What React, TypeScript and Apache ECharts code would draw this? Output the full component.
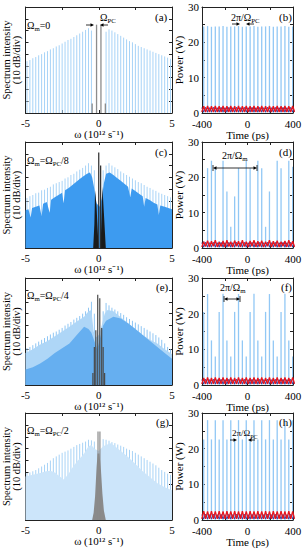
import React, { useEffect, useRef } from "react";
import * as echarts from "echarts";

// ---------- DATA ----------
// spectral comb lines (10^12 s^-1)
const OMEGA_LINES = [-4.9, -4.7, -4.5, -4.3, -4.1, -3.9, -3.7, -3.5, -3.3, -3.1, -2.9, -2.7, -2.5, -2.3, -2.1, -1.9, -1.7, -1.5, -1.3, -1.1, -0.9, -0.7, -0.5, -0.3, -0.1,
  0.1, 0.3, 0.5, 0.7, 0.9, 1.1, 1.3, 1.5, 1.7, 1.9, 2.1, 2.3, 2.5, 2.7, 2.9, 3.1, 3.3, 3.5, 3.7, 3.9, 4.1, 4.3, 4.5, 4.7, 4.9];

// heights in dB above the bottom of the frame (10 dB per division, 9 divisions)
const A_LINES = [44, 45, 46.5, 47.5, 49, 50, 51.5, 52.5, 54, 55, 56.5, 57.5, 59, 60.5, 62, 63, 64.5, 66, 67.5, 69, 70.5, 72, 70, 0, 0,
  0, 0, 69, 71, 70, 68.5, 67, 65.5, 64, 62.5, 61, 60, 58.5, 57, 56, 55, 54, 53, 52, 51, 50, 49, 48, 47, 46];
const A_CENTER_W = [-0.45, -0.15, 0.15, 0.45];
const A_CENTER = [8, 75, 75, 8];

const C_LINES = [42.5, 44, 45, 46.5, 47, 49, 49.5, 51, 52, 54, 55, 56, 57, 59, 60, 62, 63, 65, 66.5, 68, 70, 72, 70, 66, 0,
  0, 66, 70, 72, 70, 68.5, 67, 65, 63.5, 62, 60.5, 59, 57.5, 56, 55, 53.5, 52, 51, 49.5, 48.5, 47, 46, 45, 44, 43];
const C_FILL_W = [-5, -4.8, -4.65, -4.55, -4.3, -4.05, -3.9, -3.8, -3.55, -3.35, -3.25, -3.0, -2.75, -2.5, -2.4, -2.3, -2.05, -1.8, -1.55, -1.3, -1.05, -0.8, -0.6, -0.45, -0.3, -0.15,
  0.05, 0.2, 0.35, 0.5, 0.75, 1.0, 1.25, 1.5, 1.75, 2.0, 2.15, 2.25, 2.5, 2.75, 3.0, 3.1, 3.2, 3.5, 3.75, 4.0, 4.1, 4.2, 4.5, 4.75, 5.0];
const C_FILL = [32, 33, 26, 34, 35, 36, 27, 37.5, 39, 30, 41, 43, 45, 47, 38, 49, 51, 53.5, 56, 58.5, 61, 63, 64, 60, 50, 38,
  35, 42, 55, 63, 64, 62, 59.5, 57, 54.5, 52, 43, 50.5, 48.5, 46, 44, 35, 42.5, 40.5, 38.5, 37, 28, 36, 35, 34, 33];
const C_CENTER_W = [0.0, 0.13];
const C_CENTER = [81, 70];
const C_TRI_L_W = [-0.38, -0.3, -0.25, -0.15, -0.05, 0.0];
const C_TRI_L = [0, 20, 49, 35, 10, 0];
const C_TRI_R_W = [0.12, 0.2, 0.25, 0.35, 0.48];
const C_TRI_R = [0, 30, 52, 30, 0];

const E_LINES = [31, 32, 33.5, 35, 36.5, 38, 39.5, 41, 42.5, 44, 45, 46.5, 48, 50, 51.5, 53, 55, 56.5, 58, 60, 62, 65, 70, 60, 0,
  0, 62, 69, 67, 65, 63.5, 62, 60.5, 59, 57, 55.5, 54, 52.5, 51, 49.5, 48, 46.5, 45, 43.5, 42, 40, 38, 35, 32, 30];
const E_LIGHT_W = [-5, -4.5, -4, -3.5, -3, -2.5, -2, -1.5, -1, -0.7, -0.5, -0.35, -0.2, 0, 0.2, 0.4, 0.6, 1, 1.5, 2, 2.5, 3, 3.5, 4, 4.5, 5];
const E_LIGHT = [27, 30, 34, 37, 41, 45, 49, 53.5, 57.5, 62, 63, 45, 40, 42, 50, 60, 63, 62, 57, 52, 47, 42, 38, 35, 30, 26];
const E_MID_W = [-5, -4.5, -4, -3.5, -3, -2.5, -2, -1.5, -1, -0.7, -0.5, -0.3, -0.1, 0.1, 0.3, 0.5, 1, 1.5, 2, 2.5, 3, 3.5, 4, 4.5, 5];
const E_MID = [13, 15, 18, 22, 27, 31, 35, 42, 49, 47, 44, 37, 30, 40, 50, 54, 57.5, 56, 52, 47, 42, 37, 32, 27, 22];
const E_CENTER_W = [-0.4, -0.3, -0.2, -0.07, 0.07, 0.2, 0.3, 0.4];
const E_CENTER = [10, 32, 46, 76, 73, 48, 32, 10];

const G_LINES = [39.5, 40, 41, 42, 43.5, 45, 46.5, 48, 50, 52, 53.5, 55, 56.5, 57.5, 58.5, 60, 61.5, 63, 64, 65, 66, 67.5, 67, 66, 0,
  0, 68, 67.5, 66.7, 65.5, 64.7, 63.5, 62.5, 61.5, 60, 59, 58, 56.5, 55, 53.5, 52, 50.5, 49, 47.5, 46, 44, 42, 40.5, 39, 38];
const G_FILL_W = [-5, -4.5, -4, -3.6, -3.3, -3, -2.7, -2.4, -2.1, -1.8, -1.5, -1.2, -1, -0.7, -0.5, -0.3, 0, 0.3, 0.5, 0.8, 1, 1.5, 2, 2.5, 3, 3.5, 4, 4.5, 5];
const G_FILL = [36.5, 38, 39.5, 41, 41.5, 40, 37, 34, 38, 44, 49, 53, 56, 62, 63, 60, 58, 62, 63, 64.5, 63, 58, 53, 47, 41, 36, 31, 27.5, 25];
const G_TRI_W = [-0.45, -0.35, -0.25, -0.15, -0.08, 0.05, 0.15, 0.25, 0.35, 0.48];
const G_TRI = [0, 6, 20, 44, 56, 56, 42, 22, 8, 0];
const G_CENTER_W = [-0.05, 0.08];
const G_CENTER = [74.5, 74.5];

// time domain (ps, W)
const PULSE_T = [-385, -351, -317, -283, -249, -215, -181, -147, -113, -79, -45, -11, 23, 57, 91, 125, 159, 193, 227, 261, 295, 329, 363, 397];
const B_PULSES = [24.5, 24.6, 24.4, 24.5, 24.5, 24.6, 24.4, 24.5, 24.5, 24.6, 24.4, 24.5, 24.5, 24.6, 24.4, 24.5, 24.5, 24.6, 24.4, 24.5, 24.5, 24.6, 24.4, 24.5];
const D_PULSES = [2, 22.6, 24.7, 22.6, 2, 24.7, 16, 6, 14.6, 22.6, 2, 24.7, 22.6, 2, 24.7, 22.6, 6, 16, 2, 24.7, 22.6, 2, 24.7, 23];
const F_PULSES = [20.5, 25.5, 12.5, 8, 20.5, 25.6, 12.5, 8, 20.5, 25.5, 12.5, 8, 20.5, 25.6, 12.5, 8, 20.5, 25.5, 12.5, 8, 20.5, 25.6, 12.5, 8];
const H_PULSES = [22.6, 28, 22.6, 28, 22.6, 28, 22.6, 28, 22.6, 28, 22.6, 28, 22.6, 28, 22.6, 28, 22.6, 28, 22.6, 28, 22.6, 28, 22.6, 28];

const TRACE_T = [-402, -385, -368, -351, -334, -317, -300, -283, -266, -249, -232, -215, -198, -181, -164, -147, -130, -113, -96, -79, -62, -45, -28, -11,
  6, 23, 40, 57, 74, 91, 108, 125, 142, 159, 176, 193, 210, 227, 244, 261, 278, 295, 312, 329, 346, 363, 380, 397, 414];
const B_RED = [0.3, 1.9, 0.3, 2.0, 0.3, 1.9, 0.3, 2.0, 0.3, 1.9, 0.3, 2.0, 0.3, 1.9, 0.3, 2.0, 0.3, 1.9, 0.3, 2.0, 0.3, 1.9, 0.3, 2.0,
  0.3, 1.9, 0.3, 2.0, 0.3, 1.9, 0.3, 2.0, 0.3, 1.9, 0.3, 2.0, 0.3, 1.9, 0.3, 2.0, 0.3, 1.9, 0.3, 2.0, 0.3, 1.9, 0.3, 2.0, 0.3];
const D_RED = [0.3, 1.8, 0.4, 2.1, 0.3, 1.9, 0.5, 2.2, 0.3, 1.7, 0.4, 2.0, 0.3, 2.2, 0.4, 1.8, 0.3, 2.1, 0.5, 1.9, 0.3, 2.2, 0.4, 1.8,
  0.3, 2.0, 0.5, 2.2, 0.3, 1.9, 0.4, 2.1, 0.3, 1.8, 0.5, 2.2, 0.3, 1.9, 0.4, 2.1, 0.3, 1.8, 0.5, 2.0, 0.3, 2.2, 0.4, 1.9, 0.3];
const F_RED = [0.3, 2.0, 0.3, 2.1, 0.3, 2.0, 0.3, 2.1, 0.3, 2.0, 0.3, 2.1, 0.3, 2.0, 0.3, 2.1, 0.3, 2.0, 0.3, 2.1, 0.3, 2.0, 0.3, 2.1,
  0.3, 2.0, 0.3, 2.1, 0.3, 2.0, 0.3, 2.1, 0.3, 2.0, 0.3, 2.1, 0.3, 2.0, 0.3, 2.1, 0.3, 2.0, 0.3, 2.1, 0.3, 2.0, 0.3, 2.1, 0.3];
const H_RED = [0.3, 2.5, 0.3, 2.4, 0.3, 2.5, 0.3, 2.4, 0.3, 2.5, 0.3, 2.4, 0.3, 2.5, 0.3, 2.4, 0.3, 2.5, 0.3, 2.4, 0.3, 2.5, 0.3, 2.4,
  0.3, 2.5, 0.3, 2.4, 0.3, 2.5, 0.3, 2.4, 0.3, 2.5, 0.3, 2.4, 0.3, 2.5, 0.3, 2.4, 0.3, 2.5, 0.3, 2.4, 0.3, 2.5, 0.3, 2.4, 0.3];
const BLUE_TRACE = [1.5, 0.3, 1.6, 0.3, 1.5, 0.3, 1.6, 0.3, 1.5, 0.3, 1.6, 0.3, 1.5, 0.3, 1.6, 0.3, 1.5, 0.3, 1.6, 0.3, 1.5, 0.3, 1.6, 0.3,
  1.5, 0.3, 1.6, 0.3, 1.5, 0.3, 1.6, 0.3, 1.5, 0.3, 1.6, 0.3, 1.5, 0.3, 1.6, 0.3, 1.5, 0.3, 1.6, 0.3, 1.5, 0.3, 1.6, 0.3, 1.5];

const SPEC_TICKS = { min: -5, max: 5, interval: 2.5 };
const TIME_TICKS = { min: -400, max: 400, interval: 200 };

// ---------- STYLE / LAYOUT ----------
const SERIF = '"Liberation Serif", "Times New Roman", Times, serif';
const ROWS = [
  { top: 7, height: 106 },
  { top: 142, height: 106 },
  { top: 278, height: 107 },
  { top: 413, height: 107 },
];
const AX = "#222";

const zip = (xs: number[], ys: number[]) => xs.map((x, i) => [x, ys[i]]);

function vlines(g: number, xs: number[], ys: number[], color: string, width: number, z: number) {
  return {
    type: "custom",
    xAxisIndex: 2 * g,
    yAxisIndex: 2 * g,
    data: zip(xs, ys),
    z,
    clip: true,
    silent: true,
    encode: { x: 0, y: 1 },
    renderItem: (_p: any, api: any) => {
      const x = api.value(0);
      const y = api.value(1);
      const p0 = api.coord([x, 0]);
      const p1 = api.coord([x, y]);
      return {
        type: "line",
        shape: { x1: p0[0], y1: p0[1], x2: p1[0], y2: p1[1] },
        style: { stroke: color, lineWidth: width },
      };
    },
  };
}

function area(g: number, xs: number[], ys: number[], color: string, z: number) {
  return {
    type: "line",
    xAxisIndex: 2 * g,
    yAxisIndex: 2 * g,
    data: zip(xs, ys),
    symbol: "none",
    z,
    silent: true,
    lineStyle: { width: 0, opacity: 0 },
    areaStyle: { color, opacity: 1 },
  };
}

function trace(g: number, xs: number[], ys: number[], color: string, z: number, width = 1) {
  return {
    type: "line",
    xAxisIndex: 2 * g,
    yAxisIndex: 2 * g,
    data: zip(xs, ys),
    symbol: "none",
    z,
    silent: true,
    clip: true,
    lineStyle: { width, color },
  };
}

function arrow(x1: number, x2: number, y: number): any[] {
  const d = x2 > x1 ? 1 : -1;
  return [
    { type: "line", shape: { x1, y1: y, x2: x2 - d * 2, y2: y }, style: { stroke: "#000", lineWidth: 0.8 }, z: 100 },
    { type: "polygon", shape: { points: [[x2, y], [x2 - d * 3.5, y - 1.7], [x2 - d * 3.5, y + 1.7]] }, style: { fill: "#000" }, z: 100 },
  ];
}
function span(x1: number, x2: number, y: number): any[] {
  const m = (x1 + x2) / 2;
  return [
    ...arrow(m, x1, y),
    ...arrow(m, x2, y),
    { type: "line", shape: { x1, y1: y - 3, x2: x1, y2: y + 3 }, style: { stroke: "#000", lineWidth: 0.8 }, z: 100 },
    { type: "line", shape: { x1: x2, y1: y - 3, x2, y2: y + 3 }, style: { stroke: "#000", lineWidth: 0.8 }, z: 100 },
  ];
}
function label(x: number, y: number, text: string, size = 10): any {
  return {
    type: "text",
    x,
    y,
    z: 100,
    style: {
      text,
      align: "left",
      verticalAlign: "middle",
      rich: {
        n: { fontFamily: SERIF, fontSize: size, fill: "#000", lineHeight: 14, verticalAlign: "middle" },
        s: { fontFamily: SERIF, fontSize: size * 0.68, fill: "#000", lineHeight: 14, verticalAlign: "bottom" },
      },
    },
  };
}

function buildOption() {
  const grid: any[] = [];
  const xAxis: any[] = [];
  const yAxis: any[] = [];
  const tick = { inside: true, length: 3, lineStyle: { color: AX } };
  const line = { onZero: false, lineStyle: { color: AX, width: 1 } };
  const lbl = { fontFamily: SERIF, fontSize: 11, color: "#000", margin: 4 };
  const nameStyle = { fontFamily: SERIF, fontSize: 11, color: "#000" };

  ROWS.forEach((r) => {
    // spectrum panel
    const gs = grid.length;
    grid.push({ left: 25, width: 147, top: r.top, height: r.height, containLabel: false });
    xAxis.push({
      type: "value", gridIndex: gs, ...SPEC_TICKS, position: "bottom",
      axisLine: line, axisTick: tick, splitLine: { show: false },
      axisLabel: { ...lbl, formatter: (v: number) => (v % 5 === 0 ? String(v) : "") },
      name: "ω (10¹² s⁻¹)", nameLocation: "middle", nameGap: 15, nameTextStyle: nameStyle,
    });
    xAxis.push({
      type: "value", gridIndex: gs, ...SPEC_TICKS, position: "top",
      axisLine: line, axisTick: tick, splitLine: { show: false }, axisLabel: { show: false },
    });
    yAxis.push({
      type: "value", gridIndex: gs, min: 0, max: 90, interval: 10, position: "left",
      axisLine: line, axisTick: tick, splitLine: { show: false }, axisLabel: { show: false },
      name: "Spectrum intensity\n(10 dB/div)", nameLocation: "middle", nameGap: 4, nameRotate: 90,
      nameTextStyle: { ...nameStyle, fontSize: 10.5, lineHeight: 10 },
    });
    yAxis.push({
      type: "value", gridIndex: gs, min: 0, max: 90, interval: 10, position: "right",
      axisLine: line, axisTick: tick, splitLine: { show: false }, axisLabel: { show: false },
    });
    // time panel
    const gt = grid.length;
    grid.push({ left: 202, width: 91, top: r.top, height: r.height, containLabel: false });
    xAxis.push({
      type: "value", gridIndex: gt, ...TIME_TICKS, position: "bottom",
      axisLine: line, axisTick: tick, splitLine: { show: false },
      axisLabel: { ...lbl, margin: 5, formatter: (v: number) => (v % 400 === 0 ? String(v) : "") },
      name: "Time (ps)", nameLocation: "middle", nameGap: 16, nameTextStyle: nameStyle,
    });
    xAxis.push({
      type: "value", gridIndex: gt, ...TIME_TICKS, position: "top",
      axisLine: line, axisTick: tick, splitLine: { show: false }, axisLabel: { show: false },
    });
    yAxis.push({
      type: "value", gridIndex: gt, min: 0, max: 30, interval: 5, position: "left",
      axisLine: line, axisTick: tick, splitLine: { show: false },
      axisLabel: { ...lbl, margin: 3, formatter: (v: number) => (v % 10 === 0 ? String(v) : "") },
      name: "Power (W)", nameLocation: "middle", nameGap: 15, nameRotate: 90, nameTextStyle: nameStyle,
    });
    yAxis.push({
      type: "value", gridIndex: gt, min: 0, max: 30, interval: 5, position: "right",
      axisLine: line, axisTick: tick, splitLine: { show: false }, axisLabel: { show: false },
    });
  });

  const series: any[] = [
    // (a)
    vlines(0, OMEGA_LINES, A_LINES, "#a7d3f7", 1, 1),
    vlines(0, A_CENTER_W, A_CENTER, "#8c8c8c", 1.3, 4),
    // (b)
    vlines(1, PULSE_T, B_PULSES, "#92c8f5", 1.3, 1),
    trace(1, TRACE_T, BLUE_TRACE, "#3a3a9a", 2),
    trace(1, TRACE_T, B_RED, "#e8141c", 3, 1.3),
    // (c)
    vlines(2, OMEGA_LINES, C_LINES, "#a9d4f7", 1, 1),
    area(2, C_FILL_W, C_FILL, "#3d9bf0", 2),
    area(2, C_TRI_L_W, C_TRI_L, "#1a1a1a", 3),
    area(2, C_TRI_R_W, C_TRI_R, "#1a1a1a", 3),
    vlines(2, C_CENTER_W, C_CENTER, "#2a2a2a", 1.2, 4),
    // (d)
    vlines(3, PULSE_T, D_PULSES, "#92c8f5", 1.3, 1),
    trace(3, TRACE_T, BLUE_TRACE, "#3a3a9a", 2),
    trace(3, TRACE_T, D_RED, "#e8141c", 3, 1.3),
    // (e)
    vlines(4, OMEGA_LINES, E_LINES, "#8fc6f4", 1, 1),
    area(4, E_LIGHT_W, E_LIGHT, "#aed6f7", 2),
    area(4, E_MID_W, E_MID, "#66aff0", 3),
    vlines(4, E_CENTER_W, E_CENTER, "#4a4a4a", 1.2, 4),
    // (f)
    vlines(5, PULSE_T, F_PULSES, "#92c8f5", 1.3, 1),
    trace(5, TRACE_T, BLUE_TRACE, "#3a3a9a", 2),
    trace(5, TRACE_T, F_RED, "#e8141c", 3, 1.3),
    // (g)
    vlines(6, OMEGA_LINES, G_LINES, "#a8d3f6", 1, 1),
    area(6, G_FILL_W, G_FILL, "#cce5fa", 2),
    area(6, G_TRI_W, G_TRI, "#8a8a8a", 3),
    vlines(6, G_CENTER_W, G_CENTER, "#8a8a8a", 1.2, 4),
    // (h)
    vlines(7, PULSE_T, H_PULSES, "#92c8f5", 1.3, 1),
    trace(7, TRACE_T, BLUE_TRACE, "#3a3a9a", 2),
    trace(7, TRACE_T, H_RED, "#e8141c", 3, 1.3),
  ];

  const graphic: any[] = [
    // (a)
    label(27, 25, "{n|Ω}{s|m}{n|=0}"),
    label(100, 17, "{n|Ω}{s|PC}"),
    ...arrow(86, 94, 25),
    ...arrow(108, 100, 25),
    label(155, 17, "{n|(a)}", 11),
    // (b)
    label(231, 17, "{n|2π/Ω}{s|PC}"),
    ...arrow(232, 240, 24),
    ...arrow(254, 246, 24),
    label(279, 17, "{n|(b)}", 11),
    // (c)
    label(27, 160, "{n|Ω}{s|m}{n|=Ω}{s|PC}{n|/8}"),
    label(155, 152, "{n|(c)}", 11),
    // (d)
    label(222, 155, "{n|2π/Ω}{s|m}"),
    ...span(213, 257, 168),
    label(279, 152, "{n|(d)}", 11),
    // (e)
    label(27, 295, "{n|Ω}{s|m}{n|=Ω}{s|PC}{n|/4}"),
    label(156, 287, "{n|(e)}", 11),
    // (f)
    label(220, 287, "{n|2π/Ω}{s|m}"),
    ...span(224, 240, 299),
    label(281, 287, "{n|(f)}", 11),
    // (g)
    label(27, 430, "{n|Ω}{s|m}{n|=Ω}{s|PC}{n|/2}"),
    label(156, 422, "{n|(g)}", 11),
    // (h)
    label(232, 433, "{n|2π/Ω}{s|PC}", 9),
    ...arrow(230, 237, 440),
    ...arrow(255, 248, 440),
    label(279, 422, "{n|(h)}", 11),
  ];

  return { animation: false, backgroundColor: "#fff", grid, xAxis, yAxis, series, graphic };
}

export default function App() {
  const ref = useRef<HTMLDivElement>(null);
  useEffect(() => {
    if (!ref.current) return;
    const chart = echarts.init(ref.current, undefined, { renderer: "svg" });
    chart.setOption(buildOption() as any);
    return () => chart.dispose();
  }, []);
  return <div ref={ref} style={{ position: "absolute", left: 0, top: 0, width: 306, height: 550 }} />;
}
